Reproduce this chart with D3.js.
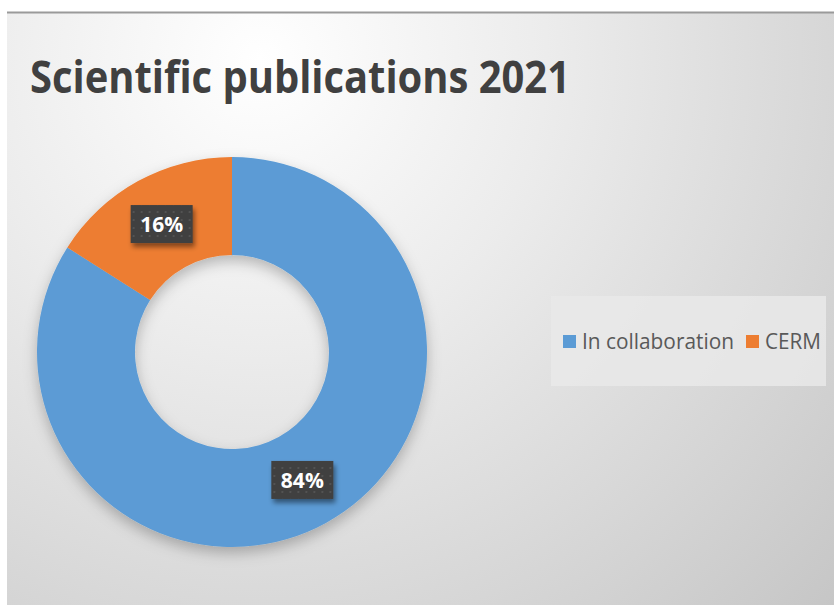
<!DOCTYPE html>
<html>
<head>
<meta charset="utf-8">
<script src="https://cdn.jsdelivr.net/npm/d3@7"></script>
<style>
  body { margin: 0; background: #fff; }
  svg { display: block; }
</style>
</head>
<body>
<svg id="chart" width="834" height="605"></svg>
<script>
var WIDTH = 834;
var HEIGHT = 605;
var TITLE = 'Scientific publications 2021';

// data
var categories = ['In collaboration', 'CERM'];
var values = [84, 16];
var colors = ['#5B9BD5', '#ED7D31'];

var CENTER = { x: 232, y: 352 };
var OUTER_R = 195;
var INNER_R = 97;

var svg = d3.select('#chart');
var defs = svg.append('defs');

// background gradient of the chart area
var bg = defs.append('radialGradient')
  .attr('id', 'bg')
  .attr('gradientUnits', 'userSpaceOnUse')
  .attr('cx', 260).attr('cy', 60).attr('r', 820);
bg.append('stop').attr('offset', '0').attr('stop-color', '#ffffff');
bg.append('stop').attr('offset', '0.35').attr('stop-color', '#ececec');
bg.append('stop').attr('offset', '1').attr('stop-color', '#c4c4c4');

var shadow = defs.append('filter')
  .attr('id', 'shadow')
  .attr('x', '-20%').attr('y', '-20%')
  .attr('width', '140%').attr('height', '150%');
shadow.append('feDropShadow')
  .attr('dx', 0).attr('dy', 6)
  .attr('stdDeviation', 7)
  .attr('flood-color', '#000')
  .attr('flood-opacity', 0.25);

var boxShadow = defs.append('filter')
  .attr('id', 'box-shadow')
  .attr('x', '-30%').attr('y', '-30%')
  .attr('width', '160%').attr('height', '180%');
boxShadow.append('feDropShadow')
  .attr('dx', 2).attr('dy', 4)
  .attr('stdDeviation', 2.5)
  .attr('flood-color', '#000')
  .attr('flood-opacity', 0.45);

var dots = defs.append('pattern')
  .attr('id', 'dots')
  .attr('patternUnits', 'userSpaceOnUse')
  .attr('width', 8).attr('height', 8);
dots.append('rect').attr('width', 8).attr('height', 8).attr('fill', '#3f3f3f');
dots.append('circle').attr('cx', 4).attr('cy', 4).attr('r', 1).attr('fill', '#5a5a5a');

// chart area
svg.append('rect')
  .attr('x', 7).attr('y', 12)
  .attr('width', WIDTH - 7).attr('height', HEIGHT - 12)
  .attr('fill', 'url(#bg)');

svg.append('line')
  .attr('x1', 7).attr('x2', WIDTH)
  .attr('y1', 12.5).attr('y2', 12.5)
  .attr('stroke', '#9a9a9a')
  .attr('stroke-width', 2);

svg.append('text')
  .attr('x', 30).attr('y', 93)
  .attr('font-family', 'Open Sans, sans-serif')
  .attr('font-weight', 'bold')
  .attr('font-size', 44)
  .attr('fill', '#404040')
  .attr('textLength', 540)
  .attr('lengthAdjust', 'spacingAndGlyphs')
  .text(TITLE);

var pie = d3.pie().sort(null).value(d => d);
var arc = d3.arc().innerRadius(INNER_R).outerRadius(OUTER_R);
var labelArc = d3.arc().innerRadius((INNER_R + OUTER_R) / 2).outerRadius((INNER_R + OUTER_R) / 2);
var arcs = pie(values);

var donut = svg.append('g')
  .attr('transform', 'translate(' + CENTER.x + ', ' + CENTER.y + ')');

donut.append('g')
  .attr('filter', 'url(#shadow)')
  .selectAll('path')
  .data(arcs)
  .enter()
  .append('path')
  .attr('d', arc)
  .attr('fill', (d, i) => colors[i]);

var labels = donut.selectAll('.label')
  .data(arcs)
  .enter()
  .append('g')
  .attr('class', 'label')
  .attr('transform', d => 'translate(' + labelArc.centroid(d) + ')');

labels.append('rect')
  .attr('x', -31).attr('y', -19)
  .attr('width', 62).attr('height', 38)
  .attr('fill', 'url(#dots)')
  .attr('filter', 'url(#box-shadow)');

labels.append('text')
  .attr('text-anchor', 'middle')
  .attr('dy', '0.36em')
  .attr('font-family', 'Open Sans, sans-serif')
  .attr('font-weight', 'bold')
  .attr('font-size', 21)
  .attr('fill', '#fff')
  .text(d => d.data + '%');

// legend
var legend = svg.append('g').attr('class', 'legend');

legend.append('rect')
  .attr('x', 551).attr('y', 296)
  .attr('width', 275).attr('height', 90)
  .attr('fill', '#e9e9e9')
  .attr('fill-opacity', 0.85);

var legendX = [563, 746];
var legendTextLength = [152, 56];

var item = legend.selectAll('.item')
  .data(categories)
  .enter()
  .append('g')
  .attr('class', 'item')
  .attr('transform', (d, i) => 'translate(' + legendX[i] + ', 335)');

item.append('rect')
  .attr('width', 13).attr('height', 13)
  .attr('fill', (d, i) => colors[i]);

item.append('text')
  .attr('x', 19).attr('y', 14)
  .attr('font-family', 'Open Sans, sans-serif')
  .attr('font-size', 21)
  .attr('fill', '#595959')
  .attr('textLength', (d, i) => legendTextLength[i])
  .attr('lengthAdjust', 'spacingAndGlyphs')
  .text(d => d);
</script>
</body>
</html>
